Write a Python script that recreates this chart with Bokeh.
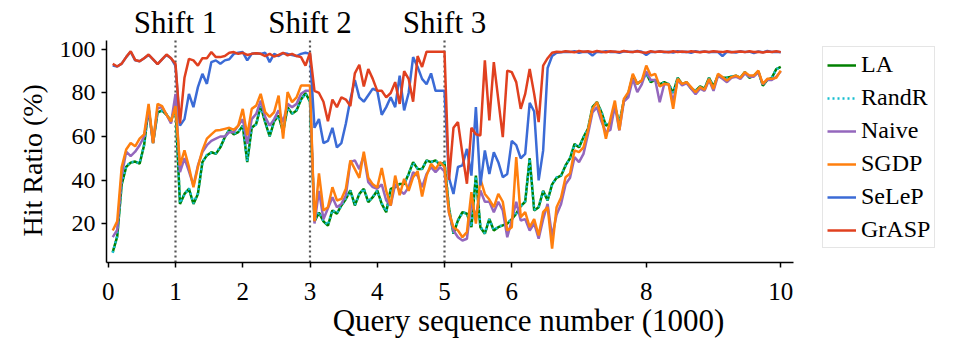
from bokeh.plotting import figure
from bokeh.models import Range1d, FixedTicker, Label, Legend, LegendItem, Title
from bokeh.embed import file_html
from bokeh.resources import INLINE

FONT = "Liberation Serif"

# query sequence number (thousands), one sample every 1000/15 queries
x = [k / 15 for k in range(1, 151)]

la = [6.8, 14, 38, 46, 48, 48.5, 47.5, 56, 73, 57, 71, 72, 70, 67, 74,
      29, 33.6, 35.9, 29, 33.6, 48.2, 51.3, 52.8, 52, 55, 59.7, 63, 61, 62, 65,
      48.2, 64, 65.8, 74, 66.6, 60, 67, 69.6, 62, 73.5, 70.4, 72, 77, 80, 76,
      21, 25, 21, 19, 26, 24.5, 28.3, 31.3, 35.2, 28.3, 33.6, 35.9, 29.8, 32.1, 35.2,
      29, 25.2, 35.9, 36.7, 38.2, 38.2, 42.8, 48.2, 45.1, 45, 49, 48.2, 49, 47, 48,
      27, 15.3, 21.4, 25.2, 24.5, 18.3, 42, 18.3, 15.3, 22.1, 16.8, 18.3, 19.1, 19.9, 22,
      24.5, 28, 30, 50, 26, 27.5, 35, 30.6, 38, 41, 42, 46.7, 50, 56.6, 55,
      59.7, 63.5, 73.5, 75.8, 71.2, 65, 66, 74, 66, 76.5, 79.6, 88, 84.2, 85.7, 89,
      85, 86, 84, 85, 84, 80, 87, 84, 85, 82, 81, 83, 82, 87, 83,
      88, 87, 87, 87.5, 88, 87, 89.6, 87, 88, 90, 83.4, 86, 87, 91, 92]

randr = [6.5, 14.3, 38.4, 46.2, 48.3, 48.2, 47.8, 56.3, 72.6, 57.4, 71.2, 71.7, 70.3, 67.3, 74.2,
         29.4, 33.3, 36.2, 29.3, 33.9, 48, 51.6, 52.5, 52.3, 55.3, 59.5, 63.2, 61.3, 62.2, 64.8,
         48.6, 64.2, 65.5, 73.8, 66.9, 60.3, 67.2, 69.3, 62.3, 73.2, 70.6, 72.3, 76.8, 79.7, 76.2,
         21.3, 25.2, 21.3, 19.3, 26.2, 24.8, 28.1, 31.5, 35, 28.6, 33.4, 36.1, 30, 32.3, 35,
         29.3, 25.5, 35.7, 36.9, 38, 38.5, 42.6, 48, 45.3, 45.2, 48.8, 48.4, 48.8, 47.3, 48.2,
         27.3, 15.6, 21.2, 25, 24.8, 18.6, 41.7, 18.6, 15.5, 21.9, 17, 18.5, 19.3, 20.1, 22.2,
         24.7, 27.8, 30.3, 49.7, 26.3, 27.7, 34.8, 30.8, 37.8, 41.2, 42.2, 46.5, 50.2, 56.4, 55.2,
         59.5, 63.7, 73.3, 75.6, 71.4, 65.2, 66.2, 73.8, 66.3, 76.3, 79.8, 87.8, 84.4, 85.5, 88.8,
         85.2, 85.8, 84.2, 84.8, 84.2, 80.3, 86.8, 84.2, 84.8, 82.2, 81.2, 82.8, 82.2, 86.8, 83.2,
         87.8, 87.2, 86.8, 87.7, 87.8, 87.2, 89.4, 87.2, 87.8, 89.8, 83.6, 86.2, 87.2, 90.8, 92.2]

naive = [13.7, 17, 42, 53, 51, 53, 56, 60, 72.7, 57, 73, 73.5, 70, 66, 79.6,
         43.6, 50, 44, 37.5, 46.7, 52.8, 56, 58, 59, 60, 60, 62, 62, 65, 68,
         56.6, 68, 70.4, 76.5, 69, 65, 68, 72, 66.6, 75, 73.5, 75, 79.6, 81, 81,
         20, 35, 22, 27, 32.1, 27.5, 29, 33, 48.2, 49, 45, 51.3, 39, 36.7, 36,
         38, 30.6, 28.3, 38.2, 35.2, 33.6, 36.7, 43.6, 42, 36.7, 42.8, 45.9, 43.6, 45.9, 44,
         25, 16.8, 13.7, 12.2, 13, 30, 22.9, 35.2, 30, 30, 25.2, 30, 26, 13.7, 21.4,
         30, 21.4, 22, 16.8, 20, 13, 22, 29, 14, 24, 29, 38, 41, 50.5, 48.2,
         52, 61, 71, 73.5, 67, 62, 63, 74.2, 62.8, 76, 78, 86.5, 80.4, 84, 90,
         86, 86, 75.8, 84, 84, 76, 86, 83.5, 84.5, 82, 79.5, 82, 81, 86, 81,
         88, 86.5, 85, 87, 87.5, 86.5, 89, 87.5, 87.5, 89.5, 84, 86, 86, 87.5, 90]

sgdp = [16.8, 21, 46, 54, 57, 55.5, 59, 61, 75, 57, 75, 74, 70, 67, 74,
        46.7, 53.6, 46, 36.7, 46, 53.6, 59, 61, 62.8, 63, 63.5, 64, 63, 65, 72.7,
        60.5, 72.7, 74.2, 79.6, 71.2, 69, 71.2, 78.8, 59, 80.4, 75.8, 78, 83.4, 83.4, 83.4,
        21, 43, 26, 27.5, 36.7, 30.6, 31.3, 36, 49, 45, 41, 53, 41, 38, 36.5,
        45.5, 35, 28.3, 42, 33, 40.5, 35, 41.3, 44, 32.4, 42, 47.4, 45, 48.2, 46,
        25, 18.3, 16.8, 13.7, 16, 34.4, 20, 40.5, 33.6, 31, 27.5, 33.6, 30, 16.8, 18.3,
        50.5, 22.9, 25.2, 18.3, 22, 14.5, 25.2, 27.5, 8.4, 27.5, 32, 41.3, 43, 53.6, 52.8,
        55, 62.8, 72.7, 75.8, 69, 59, 68, 76.5, 63, 77.3, 80.4, 88.8, 84.2, 85.7, 92.6,
        88, 88.8, 83, 84.2, 84, 72.7, 86.5, 84.2, 85, 82.7, 80.4, 82.7, 81.5, 86.5, 81.9,
        88.8, 87.3, 85.7, 87.3, 88, 87, 89.6, 88, 88, 90.3, 84.2, 86.5, 86.5, 87, 90.3]

selep = [92.6, 92.2, 93.5, 96.5, 99, 95, 94.6, 96, 97.5, 95.5, 93.3, 95.5, 97.5, 96, 92.5,
         65, 68, 79.6, 73.5, 82.7, 88.8, 84.2, 94.2, 95, 93.4, 95, 95.5, 98, 98.5, 98.8,
         95, 98, 98.3, 98, 98.5, 94.2, 98, 97, 98.3, 98, 97.5, 97, 98, 98.5, 98,
         64, 68, 57, 58, 64, 55, 57, 66, 77, 86, 78, 76, 79, 82, 81,
         70, 73.5, 78, 73.5, 88, 72, 80, 96.5, 92, 86.5, 84, 89, 81, 81, 81,
         41, 33.6, 46, 46.7, 54.3, 42, 73.5, 37.5, 53.6, 42.8, 52.8, 48.2, 41.3, 42.8, 58,
         56, 50, 52, 75.5, 71.5, 39.8, 53.5, 91.5, 97, 98.5, 98.7, 99, 98.8, 99.2, 98.5,
         99, 98.8, 97.2, 99, 98.7, 99.2, 98.9, 99, 98.5, 99.2, 99, 98.8, 99.3, 99, 97.5,
         99, 98.8, 99.2, 98.7, 99, 98.6, 99.2, 98.9, 99, 98.5, 99.2, 98.8, 99.1, 98.7, 99,
         98.8, 97, 99, 98.9, 98.6, 99.2, 98.8, 99, 98.4, 99.1, 98.7, 99.3, 98.9, 99, 98.7]

grasp = [93.4, 92.2, 93.5, 96.5, 99.2, 95.2, 94.6, 96, 97.7, 95.5, 93.3, 95.5, 97.7, 96, 93.4,
         66, 87, 95.7, 95, 92.6, 96, 96, 98.8, 96.5, 96.5, 97, 98.5, 98.8, 98, 98.5,
         97.5, 98, 98.3, 98, 97, 98, 96.8, 97.5, 98.5, 97.3, 98, 97, 96.5, 92.6, 98.5,
         81, 80, 76, 67, 77, 73.5, 78, 77, 74, 89, 93, 83, 91, 86.5, 81,
         81, 78, 80, 85, 75, 90, 86.5, 76, 97, 92, 99, 99, 99, 99, 99,
         40, 64, 66.6, 52, 38.3, 64, 61, 60.5, 95, 67.4, 94.2, 77, 59.7, 90.3, 89.6,
         85, 72.7, 79.6, 91, 79.6, 66.6, 92.6, 96, 98.5, 99, 98.8, 99.2, 99, 98.7, 99.3,
         99, 99.2, 98.8, 99.3, 99, 98.7, 99.2, 99, 98.8, 99.3, 99, 98.9, 99.2, 98.7, 98.5,
         99.2, 98.8, 99.1, 99, 98.7, 99.2, 98.9, 99.1, 98.8, 99.2, 99, 98.7, 99.1, 98.9, 99.2,
         99, 98.8, 99.2, 98.7, 99, 99.1, 98.8, 99.2, 98.9, 99, 98.6, 99.1, 98.9, 99.2, 98.8]

series_names = ["LA", "RandR", "Naive", "SGDP", "SeLeP", "GrASP"]
series_values = [la, randr, naive, sgdp, selep, grasp]
series_colors = ["#008000", "#17becf", "#9467bd", "#ff7f0e", "#3b6bd6", "#e0401f"]
series_dash = ["solid", "2 3", "solid", "solid", "solid", "solid"]

shift_positions = [1, 3, 5]
shift_labels = ["Shift 1", "Shift 2", "Shift 3"]
x_ticks = [0, 1, 2, 3, 4, 5, 6, 8, 10]
y_ticks = [20, 40, 60, 80, 100]

# axis extents (data units); the frame extends beyond them to hold legend and shift labels
X_LO, X_HI = -0.026, 10.19
Y_LO, Y_HI = 2.07, 104.1

p = figure(width=956, height=350, output_backend="svg", toolbar_location=None,
           x_range=Range1d(X_LO, 12.524), y_range=Range1d(Y_LO, 117.93),
           min_border_left=106, min_border_right=6, min_border_top=10,
           min_border_bottom=88)
p.outline_line_color = None
p.xgrid.visible = False
p.ygrid.visible = False
p.background_fill_color = "white"
p.border_fill_color = "white"

for ax in (p.xaxis[0], p.yaxis[0]):
    ax.axis_line_color = "black"
    ax.axis_line_width = 1.5
    ax.major_tick_line_color = "black"
    ax.major_tick_line_width = 1.5
    ax.major_tick_in = 0
    ax.major_tick_out = 5
    ax.minor_tick_line_color = None
    ax.major_label_text_font = FONT
    ax.major_label_text_color = "black"
    ax.axis_label_text_font = FONT
    ax.axis_label_text_font_style = "normal"
    ax.axis_label_text_color = "black"

p.xaxis.bounds = (X_LO, X_HI)
p.yaxis.bounds = (Y_LO, Y_HI)
p.xaxis.ticker = FixedTicker(ticks=x_ticks)
p.yaxis.ticker = FixedTicker(ticks=y_ticks)
p.xaxis.major_label_text_font_size = "25px"
p.yaxis.major_label_text_font_size = "24px"
p.xaxis.axis_label = "Query sequence number (1000)"
p.xaxis.axis_label_text_font_size = "31px"
p.xaxis.major_label_standoff = 15
p.yaxis.major_label_standoff = 6
p.xaxis.axis_label_standoff = 0

# y axis title in the left side panel, starting near the bottom of the y axis
p.add_layout(Title(text="Hit Ratio (%)", align="left", offset=26, standoff=17,
                   text_font=FONT, text_font_size="28px", text_font_style="normal",
                   text_color="black"), "left")

# vertical dotted shift markers spanning the y axis extent
p.segment(x0=shift_positions, y0=[Y_LO] * 3, x1=shift_positions, y1=[Y_HI] * 3,
          line_color="#555555", line_dash="2 3", line_width=2.2)
for pos, lab in zip(shift_positions, shift_labels):
    p.add_layout(Label(x=pos, y=Y_HI, text=lab, text_align="center",
                       text_baseline="alphabetic", y_offset=18,
                       text_font=FONT, text_font_size="31px", text_color="black"))

items = []
for name, vals, col, dash in zip(series_names, series_values, series_colors, series_dash):
    r = p.line(x, vals, line_color=col, line_width=2.5, line_dash=dash)
    items.append(LegendItem(label=name, renderers=[r]))

legend = Legend(items=items, location=(716, 14), margin=0, padding=4,
                spacing=6, glyph_width=29, glyph_height=20, label_height=20,
                label_standoff=5, label_text_font=FONT, label_text_font_size="24px",
                label_text_color="black",
                border_line_color="#cccccc", border_line_width=1.2,
                background_fill_color="white", background_fill_alpha=1)
p.add_layout(legend, "center")

open("out.html", "w").write(file_html(p, INLINE))
